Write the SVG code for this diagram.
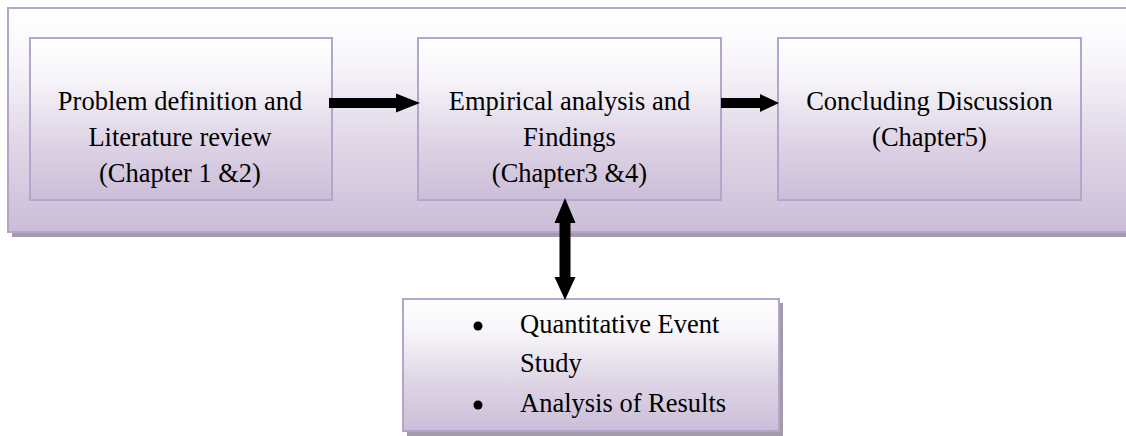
<svg xmlns="http://www.w3.org/2000/svg" width="1126" height="436" viewBox="0 0 1126 436">
  <defs>
    <linearGradient id="lilac" x1="0" y1="0" x2="0" y2="1">
      <stop offset="0" stop-color="#ffffff"/>
      <stop offset="0.25" stop-color="#f7f5f9"/>
      <stop offset="0.6" stop-color="#e0d7e7"/>
      <stop offset="1" stop-color="#cbbdd8"/>
    </linearGradient>
  </defs>
  <style>
    .box { fill: url(#lilac); stroke: #b3a5cb; stroke-width: 2; }
    .shadow { fill: #a29ba9; }
    .lbl { font-family: "Liberation Serif", "Times New Roman", "DejaVu Serif", serif; font-size: 26.5px; fill: #000; text-anchor: middle; }
    .lst { font-family: "Liberation Serif", "Times New Roman", "DejaVu Serif", serif; font-size: 26.5px; fill: #000; }
    .conn { fill: #000; stroke: none; }
  </style>

  <g id="container">
    <rect class="shadow" x="12" y="12" width="1130" height="225"/>
    <rect class="box" x="8" y="8" width="1130" height="224"/>
  </g>

  <g id="node-problem">
    <rect class="box" x="30" y="38" width="302" height="162" stroke-width="2.5"/>
    <text class="lbl" x="180" y="110">Problem definition and</text>
    <text class="lbl" x="180" y="146">Literature review</text>
    <text class="lbl" x="180" y="182">(Chapter 1 &amp;2)</text>
  </g>

  <g id="node-empirical">
    <rect class="box" x="418" y="38" width="303" height="162" stroke-width="2.5"/>
    <text class="lbl" x="569.5" y="110">Empirical analysis and</text>
    <text class="lbl" x="569.5" y="146">Findings</text>
    <text class="lbl" x="569.5" y="182">(Chapter3 &amp;4)</text>
  </g>

  <g id="node-concluding">
    <rect class="box" x="778" y="38" width="303" height="162" stroke-width="2.5"/>
    <text class="lbl" x="929.5" y="110">Concluding Discussion</text>
    <text class="lbl" x="929.5" y="146">(Chapter5)</text>
  </g>

  <g id="node-methods">
    <rect class="shadow" x="407" y="303" width="376" height="133"/>
    <rect class="box" x="403" y="299" width="376" height="132"/>
    <circle cx="478" cy="326" r="4.5" fill="#000"/>
    <circle cx="478" cy="405" r="4.5" fill="#000"/>
    <text class="lst" x="520" y="333">Quantitative Event</text>
    <text class="lst" x="520" y="372">Study</text>
    <text class="lst" x="520" y="412">Analysis of Results</text>
  </g>

  <g id="connectors">
    <polygon class="conn" points="329,98 396,98 396,93.5 420,103 396,112.5 396,108 329,108"/>
    <polygon class="conn" points="721,98 760,98 760,94 779,103 760,112 760,108 721,108"/>
    <polygon class="conn" points="565,198 575.5,223 570.5,223 570.5,277 575.5,277 565,300 554.5,277 559.5,277 559.5,223 554.5,223"/>
  </g>
</svg>
